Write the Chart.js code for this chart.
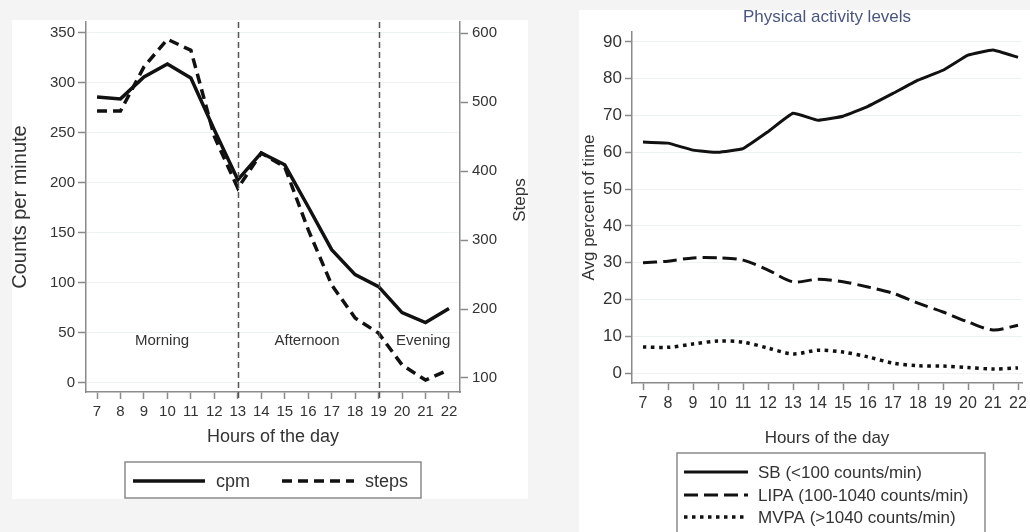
<!DOCTYPE html>
<html>
<head>
<meta charset="utf-8">
<script src="https://cdn.jsdelivr.net/npm/chart.js@4.4.1/dist/chart.umd.min.js"></script>
<style>
  html, body { margin: 0; padding: 0; width: 1030px; height: 532px; overflow: hidden; background: #f4f4f4; }
  .panel { position: absolute; background: #fff; }
  canvas { position: absolute; }
</style>
</head>
<body>
<div class="panel" style="left:12px;top:20px;width:516px;height:479px"></div>
<div class="panel" style="left:579px;top:10px;width:451px;height:522px"></div>
<canvas id="cpm-chart" width="530" height="479" style="left:0;top:20px"></canvas>
<canvas id="pa-chart" width="451" height="525" style="left:579px;top:7px"></canvas>
<script>
// hours of the day (x axis of both panels)
const hours = [7, 8, 9, 10, 11, 12, 13, 14, 15, 16, 17, 18, 19, 20, 21, 22];

// left panel: accelerometer counts per minute and steps
const cpm = [286, 284, 306, 319, 305, 253, 203, 230, 218, 176, 133, 108, 96, 70, 60, 74];
const steps = [487, 487, 551, 591, 575, 450, 375, 426, 406, 315, 235, 187, 165, 119, 97, 112];
const cpmTicks = [0, 50, 100, 150, 200, 250, 300, 350];
const stepTicks = [100, 200, 300, 400, 500, 600];
const periodBreaks = [13, 19];
const periods = ['Morning', 'Afternoon', 'Evening'];

// right panel: average percent of time per activity level
const sb = [62.8, 62.5, 60.6, 60.0, 61.0, 65.6, 70.6, 68.7, 69.8, 72.5, 76.0, 79.6, 82.3, 86.4, 87.8, 85.8];
const lipa = [30.0, 30.4, 31.3, 31.3, 30.7, 28.0, 24.8, 25.5, 24.8, 23.4, 21.7, 19.0, 16.6, 13.9, 11.7, 13.0];
const mvpa = [7.1, 7.0, 7.9, 8.7, 8.4, 6.8, 5.2, 6.2, 5.7, 4.4, 2.7, 2.0, 1.9, 1.5, 1.1, 1.4];
const pctTicks = [0, 10, 20, 30, 40, 50, 60, 70, 80, 90];

const FONT = '"Liberation Sans", Arial, Helvetica, sans-serif';
const INK = '#111';
const TEXT = '#333';
const AXIS = '#8a8a8a';
const GRID = '#edf2f2';

const points = (ys) => hours.map((h, i) => ({ x: h, y: ys[i] }));

// keep the axes at a fixed size so the plot area lands where the original has it
function fixSize(size) {
  return function (scale) {
    if (scale.isHorizontal()) scale.height = size; else scale.width = size;
    scale.paddingLeft = scale.paddingRight = scale.paddingTop = scale.paddingBottom = 0;
  };
}
function fixTicks(values) {
  return function (scale) { scale.ticks = values.map(v => ({ value: v })); };
}

// dashed period separators, period names, upright side title and a boxed legend
const decor = {
  id: 'decor',
  afterDatasetsDraw(chart, args, opts) {
    const ctx = chart.ctx;
    const x = chart.scales.x;
    const y = chart.scales.y;
    const area = chart.chartArea;
    ctx.save();
    (opts.vlines || []).forEach(v => {
      const px = Math.round(x.getPixelForValue(v)) + 0.5;
      ctx.beginPath();
      ctx.setLineDash([6, 4]);
      ctx.strokeStyle = '#555';
      ctx.lineWidth = 1.5;
      ctx.moveTo(px, area.top);
      ctx.lineTo(px, area.bottom + 7);
      ctx.stroke();
    });
    ctx.setLineDash([]);
    ctx.fillStyle = TEXT;
    ctx.font = '15px ' + FONT;
    ctx.textAlign = 'center';
    ctx.textBaseline = 'middle';
    (opts.notes || []).forEach(n => {
      ctx.fillText(n.text, x.getPixelForValue(n.x), y.getPixelForValue(n.y));
    });
    if (opts.sideTitle) {
      const t = opts.sideTitle;
      ctx.translate(t.x, t.y);
      ctx.rotate(-Math.PI / 2);
      ctx.font = t.size + 'px ' + FONT;
      ctx.fillText(t.text, 0, 0);
    }
    ctx.restore();
  },
  afterDraw(chart, args, opts) {
    const lg = opts.legend;
    if (!lg) return;
    const ctx = chart.ctx;
    ctx.save();
    ctx.strokeStyle = AXIS;
    ctx.lineWidth = 1.5;
    ctx.strokeRect(lg.box[0], lg.box[1], lg.box[2] - lg.box[0], lg.box[3] - lg.box[1]);
    ctx.font = lg.font + 'px ' + FONT;
    ctx.textBaseline = 'middle';
    ctx.textAlign = 'left';
    chart.data.datasets.forEach((ds, i) => {
      const [sx, sy] = lg.rows[i];
      ctx.beginPath();
      ctx.setLineDash(ds.borderDash || []);
      ctx.strokeStyle = ds.borderColor;
      ctx.lineWidth = ds.borderWidth;
      ctx.moveTo(sx, sy);
      ctx.lineTo(sx + lg.sample, sy);
      ctx.stroke();
      ctx.setLineDash([]);
      ctx.fillStyle = TEXT;
      ctx.fillText(ds.label, sx + lg.sample + lg.gap, sy + 1);
    });
    ctx.restore();
  }
};

new Chart(document.getElementById('cpm-chart'), {
  type: 'line',
  data: {
    datasets: [
      { label: 'cpm', data: points(cpm), yAxisID: 'y', borderColor: INK, borderWidth: 3.5, pointRadius: 0, tension: 0 },
      { label: 'steps', data: points(steps), yAxisID: 'y1', borderColor: INK, borderWidth: 3.5, borderDash: [10, 6], pointRadius: 0, tension: 0 }
    ]
  },
  options: {
    responsive: false,
    animation: false,
    devicePixelRatio: 1,
    layout: { padding: { top: 2, bottom: 51.2, left: 0, right: 0 } },
    plugins: {
      legend: { display: false },
      tooltip: { enabled: false },
      decor: {
        vlines: periodBreaks,
        notes: [
          { text: periods[0], x: 9.77, y: 42 },
          { text: periods[1], x: 15.95, y: 42 },
          { text: periods[2], x: 20.9, y: 42 }
        ],
        sideTitle: { text: 'Steps', x: 520, y: 180, size: 17 },
        legend: { box: [125, 442, 421, 478], rows: [[133, 461], [282, 461]], sample: 72, gap: 11, font: 18 }
      }
    },
    scales: {
      x: {
        type: 'linear', min: 6.53, max: 22.47,
        afterBuildTicks: fixTicks(hours), afterFit: fixSize(55.8),
        grid: { drawOnChartArea: false, tickLength: 7, tickColor: AXIS, tickWidth: 1.5 },
        border: { color: AXIS, width: 1.5 },
        ticks: { color: TEXT, font: { family: FONT, size: 15 }, padding: 4, maxRotation: 0, autoSkip: false },
        title: { display: true, text: 'Hours of the day', color: TEXT, font: { family: FONT, size: 18 }, padding: 0 }
      },
      y: {
        position: 'left', min: -9.5, max: 361,
        afterBuildTicks: fixTicks(cpmTicks), afterFit: fixSize(86),
        grid: { color: GRID, tickLength: 8, tickColor: AXIS, tickWidth: 1.5 },
        border: { color: AXIS, width: 1.5 },
        ticks: { color: TEXT, font: { family: FONT, size: 15 }, padding: 3 },
        title: { display: true, text: 'Counts per minute', color: TEXT, font: { family: FONT, size: 20 }, padding: { top: 8, bottom: 0 } }
      },
      y1: {
        position: 'right', min: 79.7, max: 616,
        afterBuildTicks: fixTicks(stepTicks), afterFit: fixSize(70),
        grid: { drawOnChartArea: false, tickLength: 8, tickColor: AXIS, tickWidth: 1.5 },
        border: { color: AXIS, width: 1.5 },
        ticks: { color: TEXT, font: { family: FONT, size: 15 }, padding: 4 },
        title: { display: false }
      }
    }
  },
  plugins: [decor]
});

new Chart(document.getElementById('pa-chart'), {
  type: 'line',
  data: {
    datasets: [
      { label: 'SB (<100 counts/min)', data: points(sb), borderColor: INK, borderWidth: 3, pointRadius: 0, tension: 0.1 },
      { label: 'LIPA (100-1040 counts/min)', data: points(lipa), borderColor: INK, borderWidth: 3, borderDash: [14, 6], pointRadius: 0, tension: 0.3 },
      { label: 'MVPA (>1040 counts/min)', data: points(mvpa), borderColor: INK, borderWidth: 3.5, borderDash: [3.5, 4.5], pointRadius: 0, tension: 0.3 }
    ]
  },
  options: {
    responsive: false,
    animation: false,
    devicePixelRatio: 1,
    layout: { padding: { top: 0, bottom: 83.8, left: 0, right: 8 } },
    plugins: {
      legend: { display: false },
      tooltip: { enabled: false },
      title: {
        display: true, fullSize: false, text: 'Physical activity levels', color: '#4b5680',
        font: { family: FONT, size: 17, weight: 'normal' }, padding: { top: 0, bottom: 4.6 }
      },
      decor: {
        legend: { box: [98, 446, 406, 530], rows: [[105, 465], [105, 488], [105, 510]], sample: 64, gap: 10, font: 17 }
      }
    },
    scales: {
      x: {
        type: 'linear', min: 6.56, max: 22.16,
        afterBuildTicks: fixTicks(hours), afterFit: fixSize(65.2),
        grid: { drawOnChartArea: false, tickLength: 7, tickColor: AXIS, tickWidth: 1.5 },
        border: { color: AXIS, width: 1.5 },
        ticks: { color: TEXT, font: { family: FONT, size: 16 }, padding: 4, maxRotation: 0, autoSkip: false },
        title: { display: true, text: 'Hours of the day', color: TEXT, font: { family: FONT, size: 17 }, padding: 0 }
      },
      y: {
        position: 'left', min: -2.7, max: 92.7,
        afterBuildTicks: fixTicks(pctTicks), afterFit: fixSize(53),
        grid: { color: GRID, tickLength: 7, tickColor: AXIS, tickWidth: 1.5 },
        border: { color: AXIS, width: 1.5 },
        ticks: { color: TEXT, font: { family: FONT, size: 17 }, padding: 3 },
        title: { display: true, text: 'Avg percent of time', color: TEXT, font: { family: FONT, size: 17 }, padding: 0 }
      }
    }
  },
  plugins: [decor]
});
</script>
</body>
</html>
